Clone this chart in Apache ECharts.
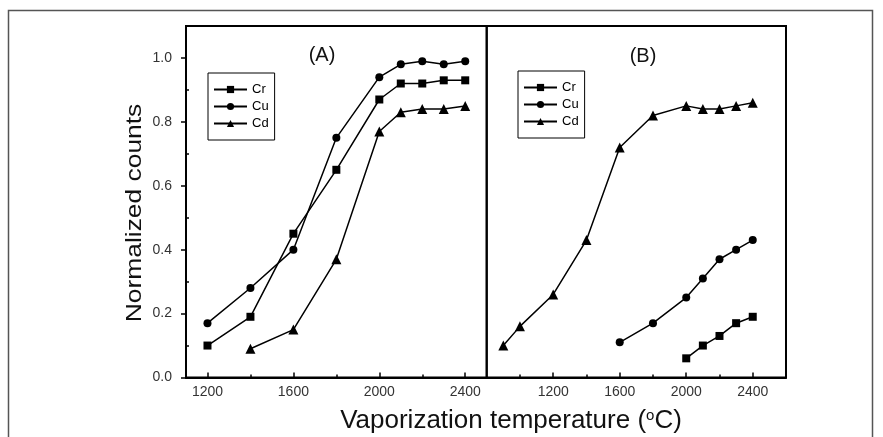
<!DOCTYPE html>
<html>
<head>
<meta charset="utf-8">
<title>Normalized counts vs vaporization temperature</title>
<script src="https://cdn.jsdelivr.net/npm/echarts@6/dist/echarts.min.js"></script>
<style>
  html, body { margin: 0; padding: 0; background: #fff; }
  #chart { width: 883px; height: 437px; }
</style>
</head>
<body>
<div id="chart"></div>
<script>
// panel (A)
const tempA = [1200, 1400, 1600, 1800, 2000, 2100, 2200, 2300, 2400]
const crA = [0.10, 0.19, 0.45, 0.65, 0.87, 0.92, 0.92, 0.93, 0.93]
const cuA = [0.17, 0.28, 0.40, 0.75, 0.94, 0.98, 0.99, 0.98, 0.99]
const tempCdA = [1400, 1600, 1800, 2000, 2100, 2200, 2300, 2400]
const cdA = [0.09, 0.15, 0.37, 0.77, 0.83, 0.84, 0.84, 0.85]

// panel (B)
const tempCrB = [2000, 2100, 2200, 2300, 2400]
const crB = [0.06, 0.10, 0.13, 0.17, 0.19]
const tempCuB = [1600, 1800, 2000, 2100, 2200, 2300, 2400]
const cuB = [0.11, 0.17, 0.25, 0.31, 0.37, 0.40, 0.43]
const tempCdB = [900, 1000, 1200, 1400, 1600, 1800, 2000, 2100, 2200, 2300, 2400]
const cdB = [0.10, 0.16, 0.26, 0.43, 0.72, 0.82, 0.85, 0.84, 0.84, 0.85, 0.86]

// ticks
const xLabels = [1200, 1600, 2000, 2400]
const xMinorA = [1400, 1800, 2200]
const xMinorB = [1000, 1400, 1800, 2200]
const yLabels = [0, 0.2, 0.4, 0.6, 0.8, 1.0]
const yMinor = [0.1, 0.3, 0.5, 0.7, 0.9]
const names = ['Cr', 'Cu', 'Cd']

const FONT = "'Liberation Sans', Arial, sans-serif"
const pairs = (xs, ys) => xs.map((x, i) => [x, ys[i]])

const SYMBOLS = { Cr: ['rect', 8], Cu: ['circle', 8], Cd: ['triangle', 10] }

function lineSeries(name, data, xi, yi) {
  return {
    name,
    type: 'line',
    xAxisIndex: xi,
    yAxisIndex: yi,
    data,
    symbol: SYMBOLS[name][0],
    symbolSize: SYMBOLS[name][1],
    showAllSymbol: true,
    lineStyle: { color: '#000', width: 1.5 },
    itemStyle: { color: '#000' },
  }
}

function mainX(gridIndex, min, max) {
  return {
    type: 'value', gridIndex, min, max, position: 'bottom',
    axisLine: { show: true, lineStyle: { color: '#000', width: 2 } },
    axisTick: { show: true, inside: true, length: 5, customValues: xLabels, lineStyle: { color: '#000', width: 1.5 } },
    axisLabel: { customValues: xLabels, margin: 8, color: '#333', fontFamily: FONT, fontSize: 14, formatter: (v) => String(v) },
    splitLine: { show: false },
  }
}

function minorX(gridIndex, min, max, ticks) {
  return {
    type: 'value', gridIndex, min, max, position: 'bottom',
    axisLine: { show: false },
    axisTick: { show: true, inside: true, length: 3, customValues: ticks, lineStyle: { color: '#000', width: 1.5 } },
    axisLabel: { show: false },
    splitLine: { show: false },
  }
}

const grids = [
  { left: 186, top: 26, width: 300.7, height: 351.5 },
  { left: 486.7, top: 26, width: 299.3, height: 351.5 },
].map((g) => ({ ...g, show: true, borderColor: '#000', borderWidth: 2, backgroundColor: 'transparent' }))

function legendAt(left, top) {
  return {
    orient: 'vertical', left, top,
    data: names,
    borderColor: '#000', borderWidth: 1,
    padding: [10, 6, 10, 5],
    itemWidth: 33, itemHeight: 9, itemGap: 4,
    textStyle: { fontFamily: FONT, fontSize: 13, lineHeight: 12, color: '#000' },
    selectedMode: false,
  }
}

const chart = echarts.init(document.getElementById('chart'), null, { renderer: 'canvas' })
chart.setOption({
  animation: false,
  backgroundColor: '#fff',
  grid: grids,
  xAxis: [
    mainX(0, 1100, 2500),
    minorX(0, 1100, 2500, xMinorA),
    mainX(1, 800, 2600),
    minorX(1, 800, 2600, xMinorB),
  ],
  yAxis: [
    {
      type: 'value', gridIndex: 0, min: 0, max: 1.1, position: 'left',
      axisLine: { show: true, lineStyle: { color: '#000', width: 2 } },
      axisTick: { show: true, inside: false, length: 5, customValues: yLabels, lineStyle: { color: '#000', width: 1.5 } },
      axisLabel: { customValues: yLabels, margin: 14, color: '#333', fontFamily: FONT, fontSize: 14, formatter: (v) => v.toFixed(1) },
      splitLine: { show: false },
    },
    {
      type: 'value', gridIndex: 0, min: 0, max: 1.1, position: 'left',
      axisLine: { show: false },
      axisTick: { show: true, inside: true, length: 3, customValues: yMinor, lineStyle: { color: '#000', width: 1.5 } },
      axisLabel: { show: false },
      splitLine: { show: false },
    },
    {
      type: 'value', gridIndex: 1, min: 0, max: 1.1,
      axisLine: { show: false }, axisTick: { show: false }, axisLabel: { show: false }, splitLine: { show: false },
    },
  ],
  legend: [legendAt(208, 73), legendAt(518, 71)],
  series: [
    lineSeries('Cr', pairs(tempA, crA), 0, 0),
    lineSeries('Cu', pairs(tempA, cuA), 0, 0),
    lineSeries('Cd', pairs(tempCdA, cdA), 0, 0),
    lineSeries('Cr', pairs(tempCrB, crB), 2, 2),
    lineSeries('Cu', pairs(tempCuB, cuB), 2, 2),
    lineSeries('Cd', pairs(tempCdB, cdB), 2, 2),
  ],
  graphic: [
    {
      type: 'rect', silent: true, z: -1,
      shape: { x: 8.5, y: 10.5, width: 864, height: 440 },
      style: { fill: 'none', stroke: '#555', lineWidth: 1.5 },
    },
    {
      type: 'text', x: 322, y: 55,
      style: { text: '(A)', font: `20px ${FONT}`, fill: '#111', align: 'center', verticalAlign: 'middle' },
    },
    {
      type: 'text', x: 643, y: 56,
      style: { text: '(B)', font: `20px ${FONT}`, fill: '#111', align: 'center', verticalAlign: 'middle' },
    },
    {
      // y axis title, stretched a little along the baseline like the source
      type: 'text', x: 134.5, y: 213, rotation: Math.PI / 2, scaleX: 1.2,
      style: { text: 'Normalized counts', font: `22px ${FONT}`, fill: '#111', align: 'center', verticalAlign: 'middle' },
    },
    {
      type: 'text', x: 511, y: 421,
      style: {
        text: 'Vaporization temperature ({sup|o}C)',
        font: `26px ${FONT}`, fill: '#111', align: 'center', verticalAlign: 'middle',
        rich: { sup: { fontSize: 15, fontFamily: FONT, fill: '#111', verticalAlign: 'top', lineHeight: 15 } },
      },
    },
  ],
})
</script>
</body>
</html>
